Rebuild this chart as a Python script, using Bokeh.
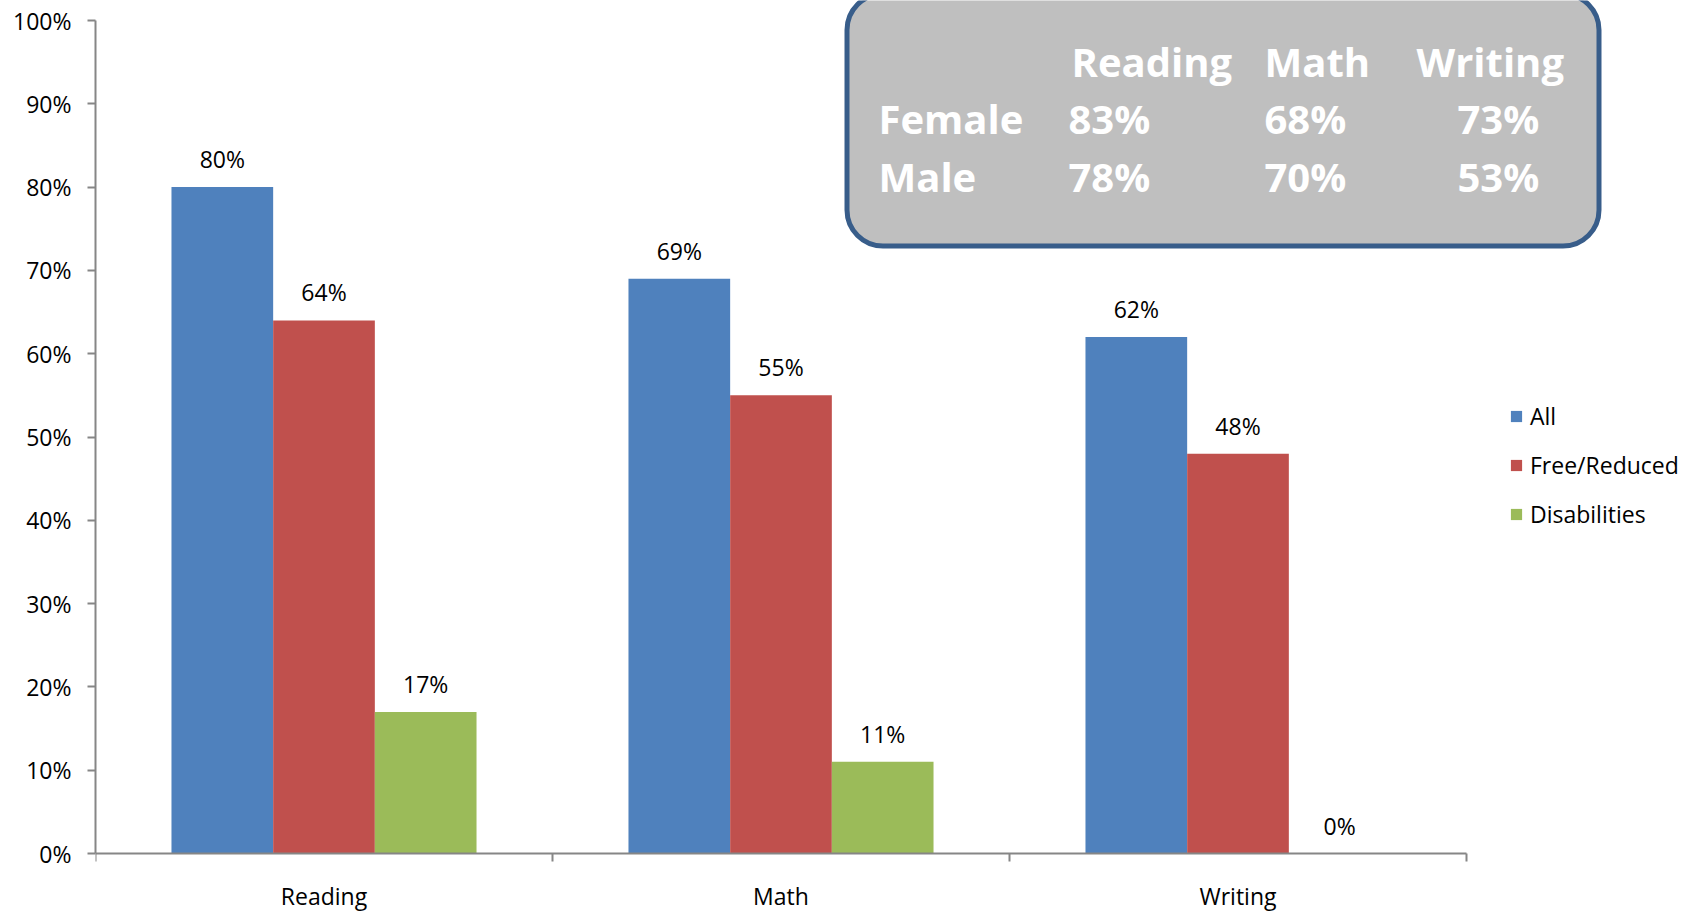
import numpy as np
from bokeh.plotting import figure
from bokeh.models import (Range1d, FixedTicker, PrintfTickFormatter, BoxAnnotation,
                          Legend, LegendItem)
from bokeh.core.properties import value
from bokeh.embed import file_html
from bokeh.resources import INLINE

# ---------------- data ----------------
categories = ["Reading", "Math", "Writing"]
series_names = ["All", "Free/Reduced", "Disabilities"]
all_vals = [80, 69, 62]
free_reduced_vals = [64, 55, 48]
disabilities_vals = [17, 11, 0]
y_ticks = [0, 10, 20, 30, 40, 50, 60, 70, 80, 90, 100]

table_cols = ["Reading", "Math", "Writing"]
table_rows = ["Female", "Male"]
female_vals = [83, 68, 73]
male_vals = [78, 70, 53]

# ---------------- layout / style ----------------
colors = ["#4F81BD", "#C0504D", "#9BBB59"]
FONT = "Open Sans"
AXIS_GREY = "#868686"
W, H = 1696, 912
LEFT = 95            # frame left (y axis line)
ZERO_PX = 853        # canvas y of value 0
CAT_PX = 457.0       # width of one category in px
PX_PER_UNIT = 8.33   # px per percentage point
x_end = (W - LEFT) / CAT_PX
y_end = ZERO_PX / PX_PER_UNIT
y_start = -(H - ZERO_PX) / PX_PER_UNIT
bar_w = 0.2225


def px2x(px):
    return (px - LEFT) / CAT_PX


def py2y(py):
    return (ZERO_PX - py) / PX_PER_UNIT


p = figure(width=W, height=H, output_backend="svg", toolbar_location=None,
           x_range=Range1d(0, x_end), y_range=Range1d(y_start, y_end),
           min_border_left=LEFT, min_border_bottom=0,
           min_border_top=0, min_border_right=0)
p.outline_line_color = None
p.xgrid.visible = False
p.ygrid.visible = False
p.background_fill_color = "white"
p.border_fill_color = "white"

# x axis, sitting at value 0
xa = p.xaxis[0]
xa.fixed_location = 0
xa.ticker = FixedTicker(ticks=[], minor_ticks=[0, 1, 2, 3])
xa.bounds = (0, 3)
xa.axis_line_color = AXIS_GREY
xa.axis_line_width = 2
xa.minor_tick_out = 8
xa.minor_tick_in = 0
xa.minor_tick_line_color = AXIS_GREY
xa.minor_tick_line_width = 2
xa.major_tick_line_color = None
xa.major_label_text_font_size = "0px"

# y axis
ya = p.yaxis[0]
ya.ticker = FixedTicker(ticks=y_ticks, minor_ticks=[])
ya.bounds = (0, 100)
ya.formatter = PrintfTickFormatter(format="%d%%")
ya.axis_line_color = AXIS_GREY
ya.axis_line_width = 2
ya.major_tick_out = 8
ya.major_tick_in = 0
ya.major_tick_line_color = AXIS_GREY
ya.major_tick_line_width = 2
ya.minor_tick_line_color = None
ya.major_label_standoff = 16
ya.major_label_text_font = FONT
ya.major_label_text_font_size = "23px"
ya.major_label_text_color = "black"

# rounded box with the gender table (under glyphs)
box = BoxAnnotation(left=px2x(846.5), right=px2x(1598.5), bottom=py2y(245.5), top=py2y(-6.5),
                    fill_color="#BFBFBF", fill_alpha=1.0,
                    line_color="#385D8A", line_width=5, line_alpha=1.0,
                    border_radius=36, level="underlay")
p.add_layout(box)

# bars + value labels
series_vals = [all_vals, free_reduced_vals, disabilities_vals]
idx = np.arange(len(categories))
items = []
for i, (name, vals, col) in enumerate(zip(series_names, series_vals, colors)):
    xs = idx + 0.5 + (i - 1) * bar_w
    r = p.vbar(x=xs, top=vals, bottom=0, width=bar_w, fill_color=col, line_color=None)
    items.append(LegendItem(label=name, renderers=[r]))
    p.text(x=xs, y=vals, text=[f"{v}%" for v in vals], text_align="center",
           text_baseline="middle", y_offset=-28, text_font=value(FONT),
           text_font_size="23px", text_color="black")

# category labels under the axis
p.text(x=idx + 0.5, y=[0] * len(categories), text=categories, text_align="center",
       text_baseline="middle", y_offset=42, text_font=value(FONT),
       text_font_size="23px", text_color="black")

# legend
legend = Legend(items=items, location=(1414, 382), orientation="vertical",
                glyph_width=14, glyph_height=14, label_standoff=7, spacing=17,
                padding=0, margin=0, border_line_color=None, background_fill_alpha=0,
                label_text_font=FONT, label_text_font_size="23px", label_text_color="black")
p.add_layout(legend)

# table text inside the box
head_x = [px2x(1071), px2x(1264), px2x(1416)]
val_x = [px2x(1068), px2x(1264), px2x(1457)]
bold = dict(text_font=value(FONT), text_font_style="bold", text_font_size="40px",
            text_color="white", text_align="left", text_baseline="middle")
p.text(x=head_x, y=[py2y(60.5)] * 3, text=table_cols, **bold)
p.text(x=[px2x(878)] * 2, y=[py2y(118), py2y(176)], text=table_rows, **bold)
p.text(x=val_x, y=[py2y(118)] * 3, text=[f"{v}%" for v in female_vals], **bold)
p.text(x=val_x, y=[py2y(176)] * 3, text=[f"{v}%" for v in male_vals], **bold)

open("out.html", "w").write(file_html(p, INLINE))
